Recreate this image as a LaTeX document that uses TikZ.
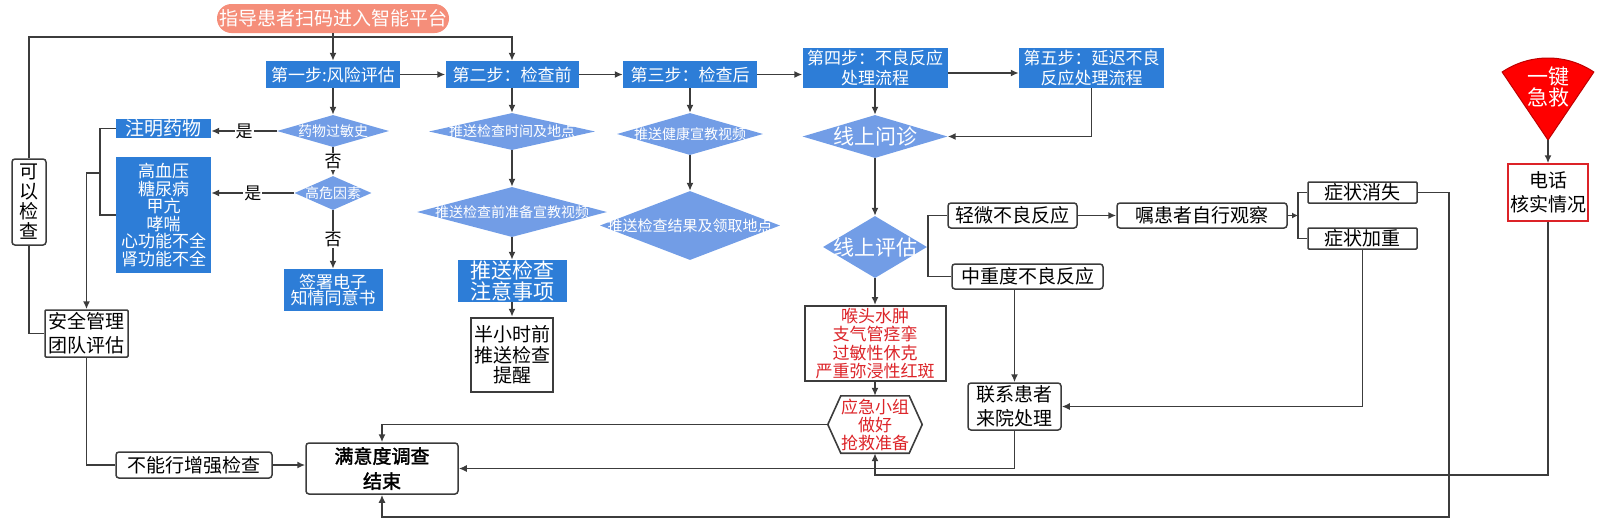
\documentclass[tikz,border=0pt]{standalone}
\usepackage{fontspec}
\setmainfont{Noto Sans CJK SC}[AutoFakeBold=2]
\usetikzlibrary{shapes.geometric,arrows.meta}
\definecolor{stepblue}{RGB}{45,125,215}
\definecolor{diablue}{RGB}{114,157,230}
\definecolor{startpink}{RGB}{245,142,122}
\definecolor{linegray}{RGB}{60,60,60}
\definecolor{alarmred}{RGB}{220,35,40}
\tikzset{
  fnt/.style 2 args={font=\fontsize{#1}{#2}\selectfont},
  stepbox/.style={rectangle, fill=stepblue, text=white, inner sep=0pt, align=center},
  decision/.style={diamond, fill=diablue, text=white, inner sep=0pt},
  whitebox/.style={rectangle, draw=linegray, line width=1.5pt, rounded corners=3pt, fill=white, inner sep=0pt, align=center},
  plainbox/.style={rectangle, draw=linegray, line width=2pt, fill=white, inner sep=0pt, align=center},
  flow/.style={draw=linegray, line width=1.6pt},
  yesno/.style={fill=white, inner sep=1pt, text=black, fnt={17}{17}}
}
\begin{document}
\begin{tikzpicture}[x=1pt,y=-1pt,>={Latex[length=8pt,width=7pt]}]
  \useasboundingbox (0,0) rectangle (1600,523);
  \node[stepbox, fill=startpink, rounded corners=14.5pt, minimum width=232pt, minimum height=29pt, fnt={19}{22}] (start) at (333,18.5) {指导患者扫码进入智能平台};
  \coordinate (jn) at (333,37);

  \node[stepbox, minimum width=134pt, minimum height=27pt, fnt={17}{20}] (s1) at (333,74.5) {第一步:风险评估};
  \node[stepbox, minimum width=133pt, minimum height=27pt, fnt={17}{20}] (s2) at (512,74.5) {第二步：检查前};
  \node[stepbox, minimum width=134pt, minimum height=27pt, fnt={17}{20}] (s3) at (690,74.5) {第三步：检查后};
  \node[stepbox, minimum width=145pt, minimum height=40pt, fnt={17}{20}] (s4) at (875,68) {第四步：不良反应\\处理流程};
  \node[stepbox, minimum width=145pt, minimum height=40pt, fnt={17}{20}] (s5) at (1091.5,68) {第五步：延迟不良\\反应处理流程};

  \node[decision, minimum width=112pt, minimum height=32pt, fnt={14}{15}] (d11) at (333,131) {\makebox[0pt]{药物过敏史}};
  \node[decision, minimum width=77pt, minimum height=34pt, fnt={14}{15}] (d12) at (333,193) {\makebox[0pt]{高危因素}};
  \node[stepbox, minimum width=95pt, minimum height=19pt, fnt={19}{20}] (b11) at (163.5,128.5) {注明药物};
  \node[stepbox, minimum width=95pt, minimum height=116pt, fnt={17}{17.5}] (b12) at (163.5,215) {高血压\\糖尿病\\甲亢\\哮喘\\心功能不全\\肾功能不全};
  \node[stepbox, minimum width=99pt, minimum height=42pt, fnt={17}{16.5}] (b13) at (333,290) {签署电子\\知情同意书};

  \node[decision, minimum width=166pt, minimum height=37pt, fnt={14}{15}] (d21) at (512,131.5) {\makebox[0pt]{推送检查时间及地点}};
  \node[decision, minimum width=190pt, minimum height=50pt, fnt={14}{15}] (d22) at (512,212) {\makebox[0pt]{推送检查前准备宣教视频}};
  \node[stepbox, minimum width=109pt, minimum height=42pt, fnt={21}{21.5}] (b21) at (512,281) {推送检查\\注意事项};
  \node[plainbox, line width=2.5pt, minimum width=82pt, minimum height=74pt, fnt={19}{20.5}] (b22) at (512,355) {半小时前\\推送检查\\提醒};

  \node[decision, minimum width=146pt, minimum height=42pt, fnt={14}{15}] (d31) at (690,134) {\makebox[0pt]{推送健康宣教视频}};
  \node[decision, minimum width=180pt, minimum height=69pt, fnt={15}{16}] (d32) at (690,225.5) {\makebox[0pt]{推送检查结果及领取地点}};

  \node[decision, minimum width=145pt, minimum height=43pt, fnt={21}{22}] (d41) at (875,136.5) {\makebox[0pt]{线上问诊}};
  \node[decision, minimum width=104pt, minimum height=62pt, fnt={21}{22}] (d42) at (875,247) {\makebox[0pt]{线上评估}};
  \node[plainbox, text=alarmred, minimum width=141pt, minimum height=75pt, fnt={17}{18.3}] (r41) at (875,343.5) {喉头水肿\\支气管痉挛\\过敏性休克\\严重弥浸性红斑};
  \node[inner sep=0pt, minimum width=94pt, minimum height=57pt, text=alarmred, align=center, fnt={17}{18}] (hx) at (875,424.5) {应急小组\\做好\\抢救准备};
  \draw[flow] (hx.west) -- ([xshift=13pt]hx.north west) -- ([xshift=-13pt]hx.north east) -- (hx.east)
    -- ([xshift=-13pt]hx.south east) -- ([xshift=13pt]hx.south west) -- cycle;

  \node[whitebox, minimum width=129pt, minimum height=25pt, fnt={19}{20}] (m1) at (1012.5,215.5) {轻微不良反应};
  \node[whitebox, minimum width=151pt, minimum height=25pt, fnt={19}{20}] (m2) at (1027.5,276.5) {中重度不良反应};
  \node[whitebox, minimum width=170pt, minimum height=25pt, fnt={19}{20}] (m3) at (1202,215.5) {嘱患者自行观察};
  \node[whitebox, rounded corners=1pt, minimum width=109pt, minimum height=21pt, fnt={19}{20}] (m4) at (1362.5,192.5) {症状消失};
  \node[whitebox, rounded corners=1pt, minimum width=109pt, minimum height=21pt, fnt={19}{20}] (m5) at (1362.5,238.5) {症状加重};
  \node[whitebox, minimum width=93pt, minimum height=47pt, fnt={19}{24}] (lx) at (1014.5,406.5) {联系患者\\来院处理};

  \coordinate (tip) at (1548,140);
  \filldraw[fill=red, draw=red!75!black, line width=1pt] (tip) -- ++(236:82) arc (236:304:82) -- cycle;
  \node[inner sep=0pt, text=white, align=center, fnt={21}{21}] (jj) at (1548,87) {一键\\急救};
  \node[plainbox, draw=alarmred, line width=1.5pt, minimum width=80pt, minimum height=57pt, fnt={19}{24}] (dh) at (1548,192.5) {电话\\核实情况};

  \node[whitebox, minimum width=34pt, minimum height=86pt, fnt={19}{20}] (ks) at (29,202) {可\\以\\检\\查};
  \node[whitebox, rounded corners=1pt, minimum width=83pt, minimum height=47pt, fnt={19}{24}] (aq) at (86.5,333.5) {安全管理\\团队评估};
  \node[whitebox, minimum width=156pt, minimum height=26pt, fnt={19}{20}] (bn) at (194,465) {不能行增强检查};
  \node[whitebox, minimum width=152pt, minimum height=51pt, font={\fontsize{19}{25}\selectfont\bfseries}] (end) at (382,468.5) {满意度调查\\结束};

  \draw[flow,->] (start.south) -- (s1.north);
  \draw[flow,->] (s1.east) -- (s2.west);
  \draw[flow,->] (s2.east) -- (s3.west);
  \draw[flow,->] (s3.east) -- (s3.east -| s4.west);
  \draw[flow,->] ([yshift=-5pt]s4.east) -- ([yshift=-5pt]s5.west);

  \draw[flow,->] (s1.south) -- (d11.north);
  \draw[flow,->] (d11.west) -- node[yesno]{是} (d11.west -| b11.east);
  \draw[flow,->] (d11.south) -- node[yesno]{否} (d12.north);
  \draw[flow,->] (d12.west) -- node[yesno]{是} (d12.west -| b12.east);
  \draw[flow,->] (d12.south) -- node[yesno]{否} (b13.north);

  \coordinate (br1) at (100,173);
  \draw[flow] (b11.west) -| (br1) |- (b12.west);
  \draw[flow,->] (br1) -| (aq.north);
  \draw[flow] (aq.west) -| (ks.south);
  \draw[flow,->] (ks.north) -- (ks.north |- jn) -| (s2.north);
  \draw[flow] (aq.south) |- (bn.west);
  \draw[flow,->] (bn.east) -- (bn.east -| end.west);

  \draw[flow,->] (s2.south) -- (d21.north);
  \draw[flow,->] (d21.south) -- (d22.north);
  \draw[flow,->] (d22.south) -- (b21.north);
  \draw[flow,->] (b21.south) -- (b22.north);
  \draw[flow,->] (s3.south) -- (d31.north);
  \draw[flow,->] (d31.south) -- (d32.north);

  \draw[flow,->] (s4.south) -- (d41.north);
  \draw[flow,->] (s5.south) |- (d41.east);
  \draw[flow,->] (d41.south) -- (d42.north);
  \draw[flow,->] (d42.south) -- (r41.north);
  \draw[flow,->] (r41.south) -- (hx.north);

  \coordinate (br2) at (928,247);
  \draw[flow] (d42.east) -- (br2);
  \draw[flow] (m1.west) -| (br2) |- (m2.west);
  \draw[flow,->] (m1.east) -- (m3.west);
  \coordinate (br3) at (1298,215.5);
  \draw[flow,-{Latex[length=6pt,width=6pt]}] (m3.east) -- (br3);
  \draw[flow] (m4.west) -| (br3) |- (m5.west);

  \coordinate (c1) at (1449,517);
  \draw[flow,->] (m4.east) -| (c1) -| (end.south);
  \draw[flow,->] (m5.south) |- (lx.east);
  \draw[flow,->] (m2.south -| lx.north) -- (lx.north);
  \draw[flow,->] (lx.south) |- (end.east);
  \draw[flow,->] (hx.west) -| (end.north);
  \coordinate (c2) at (1548,475);
  \draw[flow,->] (dh.south) -- (c2) -| (hx.south);
  \draw[flow,->] (tip) -- (dh.north);
\end{tikzpicture}
\end{document}
